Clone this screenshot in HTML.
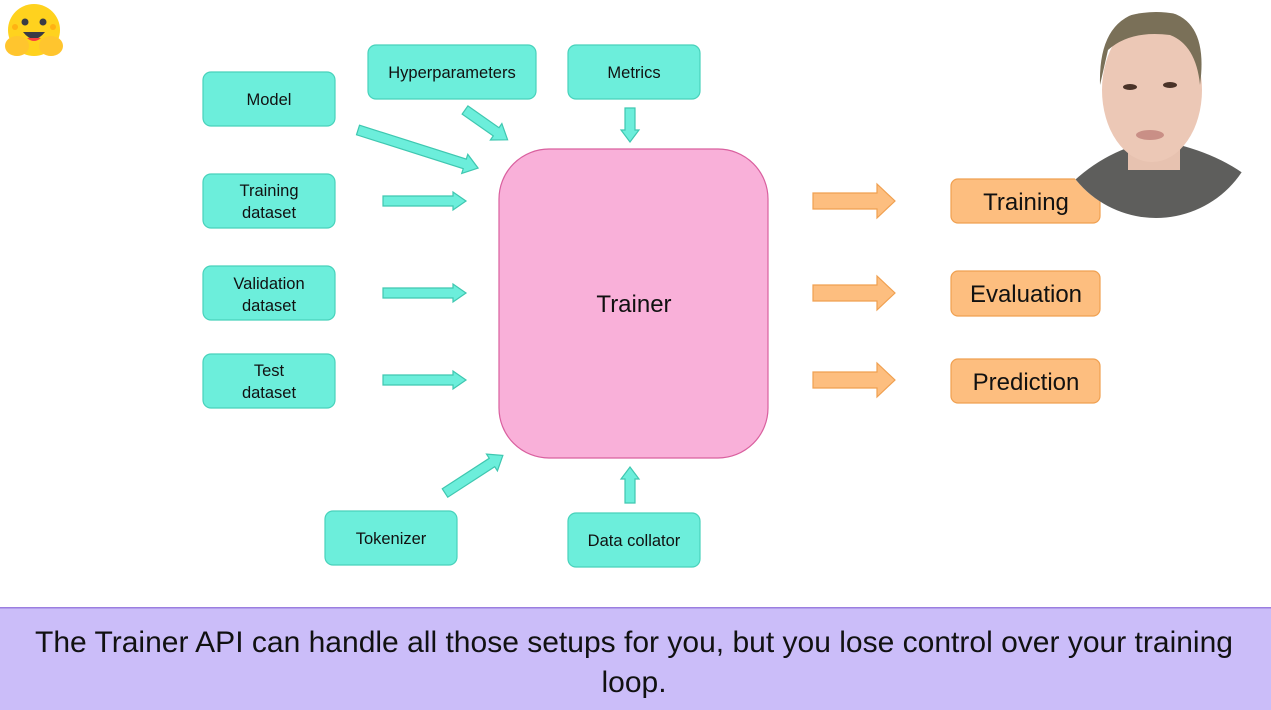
<!DOCTYPE html>
<html><head><meta charset="utf-8"><style>
html,body{margin:0;padding:0;background:#fff;}
svg{display:block;}
text{font-family:"Liberation Sans","DejaVu Sans",sans-serif;}
</style></head><body>
<svg width="1271" height="710" viewBox="0 0 1271 710" xmlns="http://www.w3.org/2000/svg">
<defs>
<clipPath id="fc"><circle cx="1156" cy="115" r="103"/></clipPath>
</defs>
<rect width="1271" height="710" fill="#fff"/>

<!-- hugging face logo -->
<g>
<circle cx="34" cy="30" r="26" fill="#ffd21e"/>
<circle cx="25" cy="22" r="3.5" fill="#3a3b45"/>
<circle cx="43" cy="22" r="3.5" fill="#3a3b45"/>
<circle cx="15" cy="27" r="3" fill="#ff9d0b" opacity=".6"/>
<circle cx="53" cy="27" r="3" fill="#ff9d0b" opacity=".6"/>
<path d="M23 32 Q34 46 45 32 Z" fill="#3a3b45"/>
<path d="M27 38 Q34 44 41 38 Z" fill="#f94040"/>
<ellipse cx="17" cy="46" rx="12" ry="10" fill="#ffc52e"/>
<ellipse cx="51" cy="46" rx="12" ry="10" fill="#ffc52e"/>
</g>

<g stroke-width="1.2">
<g fill="#6ceedb" stroke="#48d2bb">
<rect x="203" y="72" width="132" height="54" rx="8"/>
<rect x="368" y="45" width="168" height="54" rx="8"/>
<rect x="568" y="45" width="132" height="54" rx="8"/>
<rect x="203" y="174" width="132" height="54" rx="8"/>
<rect x="203" y="266" width="132" height="54" rx="8"/>
<rect x="203" y="354" width="132" height="54" rx="8"/>
<rect x="325" y="511" width="132" height="54" rx="8"/>
<rect x="568" y="513" width="132" height="54" rx="8"/>
</g>
<g fill="#6ceedb" stroke="#3fc7b0">
<g transform="translate(358,130) rotate(17.6)"><polygon points="0,-5 112,-5 112,-10 126,0 112,10 112,5 0,5"/></g>
<g transform="translate(465,110) rotate(35)"><polygon points="0,-5 38,-5 38,-10 52,0 38,10 38,5 0,5"/></g>
<g transform="translate(630,108) rotate(90)"><polygon points="0,-5 22,-5 22,-9 34,0 22,9 22,5 0,5"/></g>
<g transform="translate(383,201)"><polygon points="0,-5 70,-5 70,-9 83,0 70,9 70,5 0,5"/></g>
<g transform="translate(383,293)"><polygon points="0,-5 70,-5 70,-9 83,0 70,9 70,5 0,5"/></g>
<g transform="translate(383,380)"><polygon points="0,-5 70,-5 70,-9 83,0 70,9 70,5 0,5"/></g>
<g transform="translate(445,493) rotate(-33)"><polygon points="0,-5 56,-5 56,-10 69,0 56,10 56,5 0,5"/></g>
<g transform="translate(630,503) rotate(-90)"><polygon points="0,-5 24,-5 24,-9 36,0 24,9 24,5 0,5"/></g>
</g>
<rect x="499" y="149" width="269" height="309" rx="50" fill="#f9b0d9" stroke="#d9609f"/>
<g fill="#fdbe7f" stroke="#f0a050">
<g transform="translate(813,201)"><polygon points="0,-8 64,-8 64,-17 82,0 64,17 64,8 0,8"/></g>
<g transform="translate(813,293)"><polygon points="0,-8 64,-8 64,-17 82,0 64,17 64,8 0,8"/></g>
<g transform="translate(813,380)"><polygon points="0,-8 64,-8 64,-17 82,0 64,17 64,8 0,8"/></g>
</g>
<g fill="#fdbe7f" stroke="#f0a050">
<rect x="951" y="179" width="149" height="44" rx="7"/>
<rect x="951" y="271" width="149" height="45" rx="7"/>
<rect x="951" y="359" width="149" height="44" rx="7"/>
</g>
</g>

<g font-size="16.5" fill="#111" text-anchor="middle">
<text x="269" y="105">Model</text>
<text x="452" y="78">Hyperparameters</text>
<text x="634" y="78">Metrics</text>
<text x="269" y="196">Training</text><text x="269" y="218">dataset</text>
<text x="269" y="289">Validation</text><text x="269" y="311">dataset</text>
<text x="269" y="376">Test</text><text x="269" y="398">dataset</text>
<text x="391" y="544">Tokenizer</text>
<text x="634" y="546">Data collator</text>
</g>
<text x="634" y="312" font-size="24" fill="#111" text-anchor="middle">Trainer</text>
<g font-size="24" fill="#111" text-anchor="middle">
<text x="1026" y="210">Training</text>
<text x="1026" y="302">Evaluation</text>
<text x="1026" y="390">Prediction</text>
</g>

<!-- presenter (approximation) -->
<g clip-path="url(#fc)">
<rect x="1050" y="0" width="220" height="230" fill="#fff"/>
<path d="M1060 195 Q1100 150 1156 140 Q1215 150 1252 180 L1252 230 L1060 230 Z" fill="#5e5e5c"/>
<rect x="1128" y="120" width="52" height="50" fill="#e7c2b0"/>
<ellipse cx="1152" cy="90" rx="50" ry="72" fill="#ecc8b6"/>
<path d="M1100 85 Q1098 12 1155 10 Q1210 12 1200 85 Q1196 45 1170 35 Q1130 30 1108 50 Z" fill="#7a7058"/>
<ellipse cx="1130" cy="87" rx="7" ry="3" fill="#4a3328"/>
<ellipse cx="1170" cy="85" rx="7" ry="3" fill="#4a3328"/>
<ellipse cx="1150" cy="135" rx="14" ry="5" fill="#c98f86"/>
</g>

<rect x="0" y="608" width="1271" height="102" fill="#cbbdf9"/>
<rect x="0" y="607" width="1271" height="1.5" fill="#9b7ee0"/>
<g font-size="30" fill="#111" text-anchor="middle">
<text x="634" y="652" textLength="1198" lengthAdjust="spacingAndGlyphs">The Trainer API can handle all those setups for you, but you lose control over your training</text>
<text x="634" y="692">loop.</text>
</g>
</svg>
</body></html>
